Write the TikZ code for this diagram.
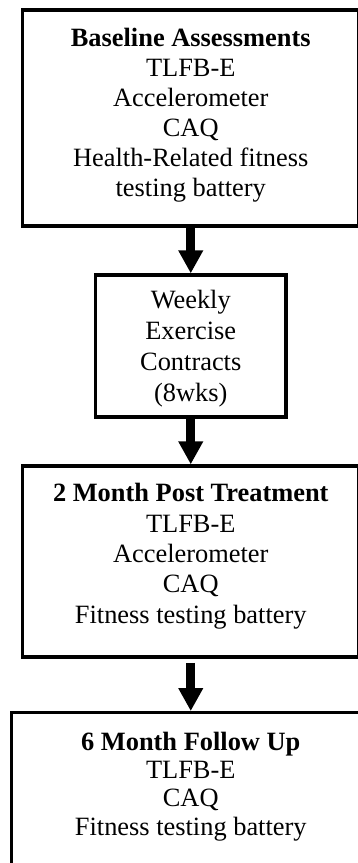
\documentclass[tikz,border=0pt]{standalone}
\usepackage{fontspec}
\setmainfont{Liberation Serif}
\usetikzlibrary{arrows.meta}

\begin{document}
\begin{tikzpicture}[x=0.5pt, y=-0.5pt,
    box/.style={draw, rectangle, line width=1.65pt, align=center, inner sep=0pt, font=\fontsize{13.2}{15}\selectfont},
    flow/.style={-{Triangle[width=11.7pt,length=11.5pt]}, line width=4.5pt}]
    \useasboundingbox (0,0) rectangle (358,863);
    \clip (0,0) rectangle (358,863);

    \node[box, minimum width=168.25pt, text height=93.35pt, text depth=14.65pt] (baseline) at (190.75,118) {\textbf{Baseline Assessments}\\TLFB-E\\Accelerometer\\CAQ\\Health-Related fitness\\testing battery};
    \node[box, minimum width=95.25pt, text height=63.15pt, text depth=7.85pt, font=\fontsize{13.2}{15.5}\selectfont] (weekly) at (190.75,346) {Weekly\\Exercise\\Contracts\\(8wks)};
    \node[box, minimum width=168.25pt, text height=78.65pt, text depth=16.85pt, font=\fontsize{13.2}{15.2}\selectfont] (posttx) at (190.75,561.5) {\textbf{2 Month Post Treatment}\\TLFB-E\\Accelerometer\\CAQ\\Fitness testing battery};
    \node[box, minimum width=179pt, text height=61.15pt, text depth=32.5pt, font=\fontsize{13.2}{14.15}\selectfont] (followup) at (190.75,806.35) {\textbf{6 Month Follow Up}\\TLFB-E\\CAQ\\Fitness testing battery};

    \draw[flow] (baseline) -- (weekly);
    \draw[flow] (weekly) -- (posttx);
    \draw[flow, shorten <=2.15pt] (posttx) -- (followup);
\end{tikzpicture}
\end{document}
